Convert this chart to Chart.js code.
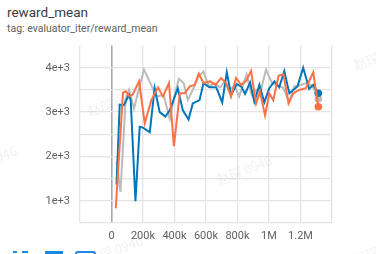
<!DOCTYPE html>
<html><head><meta charset="utf-8">
<script src="https://cdn.jsdelivr.net/npm/chart.js@4"></script>
<style>
html,body{margin:0;padding:0;background:#fff;width:376px;height:254px;overflow:hidden;font-family:Roboto,"Noto Sans",sans-serif;}
#t1{position:absolute;left:7px;top:4px;font-size:13.5px;color:#3c3c3c;}
#t2{position:absolute;left:7px;top:22px;font-size:10.5px;color:#616161;}
#wrap{position:absolute;left:0;top:29px;width:376px;height:228px;}
.wm{position:absolute;font-size:13px;color:rgba(0,0,0,0.06);transform:rotate(-20deg);white-space:nowrap;font-family:"Noto Sans CJK SC",sans-serif;}
.ic{position:absolute;top:251px;border:2px solid #1e88e5;}
</style></head>
<body>
<div id="t1">reward_mean</div>
<div id="t2">tag: evaluator_iter/reward_mean</div>
<div id="wrap"><canvas id="c" width="376" height="228"></canvas></div>
<div class="wm" style="left:86px;top:92px;">赵琛 0946</div>
<div class="wm" style="left:352px;top:46px;">赵琛 0946</div>
<div class="wm" style="left:-40px;top:150px;">赵琛 0946</div>
<div class="wm" style="left:215px;top:160px;">赵琛 0946</div>
<div class="wm" style="left:86px;top:240px;">赵琛 0946</div>
<div class="wm" style="left:352px;top:240px;">赵琛 0946</div>
<div class="ic" style="left:13px;width:4px;height:6px;border-width:2px 0 0 0;"></div>
<div class="ic" style="left:22px;width:6px;height:6px;border-width:2px 0 0 0;"></div>
<div class="ic" style="left:45px;width:14px;height:6px;background:#1e88e5;"></div>
<div class="ic" style="left:75px;width:17px;height:6px;border-radius:3px;border-bottom:none;"></div>
<script>
const xTickLabels = {"0":"0","200000":"200k","400000":"400k","600000":"600k","800000":"800k","1000000":"1M","1200000":"1.2M"};
const yTickLabels = {"1000":"1e+3","2000":"2e+3","3000":"3e+3","4000":"4e+3"};

const blueSteps = [32000,52000,78000,111000,122000,152000,179000,200000,243000,274000,306000,342000,370000,421000,453000,489000,516000,559000,584000,622000,665000,703000,732000,759000,795000,823000,848000,880000,907000,939000,970000,1002000,1034000,1065000,1097000,1129000,1181000,1217000,1255000,1281000,1313000];
const blueValues = [1370,3170,3155,3385,3270,990,2670,2650,2545,3540,3000,2900,3040,3540,3040,2835,3195,3270,3655,3560,3560,3220,3900,3385,3630,3580,3410,3670,3235,3615,3220,3540,3695,3560,3925,3425,3580,4000,3525,3615,3425];

const orangeSteps = [27000,73000,90000,116000,137000,175000,211000,253000,295000,327000,365000,396000,434000,465000,497000,528000,554000,584000,627000,660000,696000,728000,759000,791000,823000,854000,886000,918000,943000,975000,1002000,1027000,1061000,1092000,1124000,1154000,1192000,1234000,1281000,1313000];
const orangeValues = [830,3440,3470,3350,3410,3695,2750,3270,3560,3350,3655,2235,3425,3425,3580,3615,3870,3655,3695,3615,3770,3650,3350,3770,3615,3700,3925,3195,3460,2925,3425,3270,3825,3850,3195,3425,3500,3540,3900,3120];

const graySteps = [32000,57000,90000,111000,143000,206000,242000,285000,331000,370000,402000,428000,458000,485000,516000,553000,584000,618000,652000,690000,717000,749000,780000,810000,858000,890000,920000,945000,981000,1019000,1053000,1090000,1129000,1160000,1192000,1238000,1274000,1313000];
const grayValues = [1890,1200,3300,3500,3080,3960,3695,3350,3385,2850,3400,3750,3655,3270,3500,3800,3915,3580,3655,3560,3685,3500,3600,3350,3850,3385,3500,3450,3960,3655,3600,3550,3235,3580,3600,3655,3600,3300];

function pts(xs, ys){ return xs.map((x,i)=>({x:x,y:ys[i]})); }
function lastOnly(n, r){ return ctx => ctx.dataIndex === n-1 ? r : 0; }

new Chart(document.getElementById('c'), {
  type: 'scatter',
  data: { datasets: [
    {label:'orange', data: pts(orangeSteps, orangeValues), showLine:true, borderColor:'#ff7043', backgroundColor:'#ff7043', borderWidth:2, pointRadius:lastOnly(orangeSteps.length,3.8), pointBorderWidth:0, order:0},
    {label:'blue', data: pts(blueSteps, blueValues), showLine:true, borderColor:'#0077bb', backgroundColor:'#0077bb', borderWidth:2, pointRadius:lastOnly(blueSteps.length,3.8), pointBorderWidth:0, order:1},
    {label:'gray', data: pts(graySteps, grayValues), showLine:true, borderColor:'#bbbbbb', backgroundColor:'#bbbbbb', borderWidth:2, pointRadius:lastOnly(graySteps.length,3.8), pointBorderWidth:0, order:2}
  ]},
  options: {
    responsive:false, animation:false, devicePixelRatio:1,
    layout:{padding:{top:5,right:44,left:0,bottom:0}},
    plugins:{legend:{display:false}, tooltip:{enabled:false}},
    elements:{line:{tension:0}},
    scales:{
      x:{type:'linear', min:-200000, max:1400000,
        border:{display:false},
        afterFit: s => { s.height = 34; },
        afterBuildTicks: s => { const t=[]; for(let v=-200000; v<=1400000; v+=200000) t.push({value:v}); s.ticks=t; },
        grid:{drawTicks:false, color: c => c.tick && c.tick.value===0 ? '#a8a8a8' : '#e4e4e4', lineWidth: c => c.tick && c.tick.value===0 ? 1.6 : 1.3},
        ticks:{padding:7, maxRotation:0, autoSkip:false, color:'#616161', font:{size:11, family:'Roboto'}, callback: v => xTickLabels[String(v)] || ''}
      },
      y:{min:500, max:4500,
        border:{display:false},
        afterFit: s => { s.width = 80; },
        afterBuildTicks: s => { const t=[]; for(let v=500; v<=4500; v+=500) t.push({value:v}); s.ticks=t; },
        grid:{drawTicks:false, color: c => c.tick && c.tick.value===4500 ? 'rgba(0,0,0,0)' : '#e4e4e4', lineWidth:1.3},
        ticks:{padding:10, color:'#616161', font:{size:11, family:'Roboto'}, callback: v => yTickLabels[String(v)] || ''}
      }
    }
  }
});
</script>
</body></html>
